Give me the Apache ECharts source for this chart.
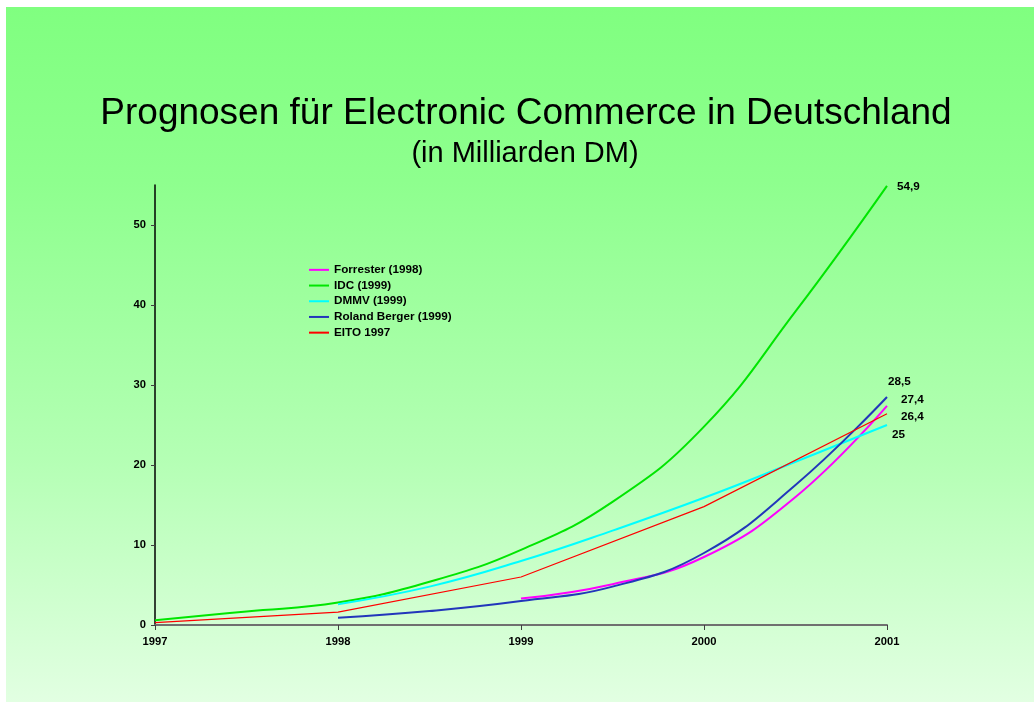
<!DOCTYPE html>
<html>
<head>
<meta charset="utf-8">
<title>Prognosen für Electronic Commerce in Deutschland</title>
<script src="https://cdn.jsdelivr.net/npm/echarts@6/dist/echarts.min.js"></script>
<style>
  html, body { margin: 0; padding: 0; background: #fff; }
  #chart { width: 1034px; height: 702px; }
</style>
</head>
<body>
<div id="chart"></div>
<script>
// Achsen
var yearTicks = [1997, 1998, 1999, 2000, 2001];
var valueTicks = [0, 10, 20, 30, 40, 50];

// Werte (Halbjahres-Stuetzstellen fuer die geglaetteten Kurven)
var forresterYears = [1999, 1999.5, 2000, 2000.5, 2001];
var forresterValues = [3.3, 5.1, 8.5, 16.0, 27.4];

var idcYears = [1997, 1997.5, 1998, 1998.5, 1999, 1999.5, 2000, 2000.5, 2001];
var idcValues = [0.6, 1.7, 2.8, 5.4, 9.4, 15.4, 24.8, 39.2, 54.9];

var dmmvYears = [1998, 1998.5, 1999, 1999.5, 2000, 2000.5, 2001];
var dmmvValues = [2.6, 4.8, 8.0, 11.8, 15.9, 20.4, 25];

var bergerYears = [1998, 1998.5, 1999, 1999.5, 2000, 2000.5, 2001];
var bergerValues = [0.9, 1.75, 3.0, 4.8, 9.0, 17.5, 28.5];

var eitoYears = [1997, 1998, 1999, 2000, 2001];
var eitoValues = [0.3, 1.6, 6.0, 14.8, 26.4];

var FONT = '"Liberation Sans", Arial, sans-serif';

function pairs(xs, ys) {
  return xs.map(function (x, i) { return [x, ys[i]]; });
}
// deutsches Dezimalkomma
function fmt(v) {
  return String(v).replace('.', ',');
}

function lineSeries(name, xs, ys, color, width, smooth, offset) {
  return {
    name: name,
    type: 'line',
    data: pairs(xs, ys),
    smooth: smooth,
    showSymbol: false,
    symbol: 'none',
    color: color,
    lineStyle: { color: color, width: width },
    endLabel: {
      show: true,
      distance: 0,
      offset: offset,
      formatter: function (p) { return fmt(p.value[1]); },
      fontFamily: FONT,
      fontSize: 11.7,
      fontWeight: 'bold',
      color: '#000'
    }
  };
}

var myChart = echarts.init(document.getElementById('chart'));

var option = {
  animation: false,
  graphic: [{
    type: 'rect',
    z: -10,
    silent: true,
    shape: { x: 6, y: 7, width: 1028, height: 695 },
    style: {
      fill: new echarts.graphic.LinearGradient(0, 0, 0, 1, [
        { offset: 0, color: '#80ff80' },
        { offset: 0.25, color: '#8eff8e' },
        { offset: 0.65, color: '#b4ffb4' },
        { offset: 1, color: '#e2ffe2' }
      ])
    }
  }, {
    type: 'text',
    x: 526,
    y: 114,
    style: {
      text: 'Prognosen für Electronic Commerce in Deutschland',
      font: '37px ' + FONT,
      fill: '#000',
      align: 'center',
      verticalAlign: 'middle'
    }
  }, {
    type: 'text',
    x: 525,
    y: 154,
    style: {
      text: '(in Milliarden DM)',
      font: '29px ' + FONT,
      fill: '#000',
      align: 'center',
      verticalAlign: 'middle'
    }
  }],
  legend: {
    orient: 'vertical',
    left: 309,
    top: 263,
    padding: 0,
    icon: 'rect',
    itemWidth: 20,
    itemHeight: 2,
    itemGap: 2,
    textStyle: { fontFamily: FONT, fontSize: 11.7, fontWeight: 'bold', color: '#000', lineHeight: 13.7 },
    data: ['Forrester (1998)', 'IDC (1999)', 'DMMV (1999)', 'Roland Berger (1999)', 'EITO 1997']
  },
  grid: { left: 155, right: 147, top: 185, bottom: 77 },
  xAxis: {
    type: 'value',
    min: 1997,
    max: 2001,
    interval: 1,
    axisLine: { show: true, lineStyle: { color: '#707070', width: 2 } },
    axisTick: { show: true, length: 5, lineStyle: { color: '#404040' } },
    splitLine: { show: false },
    axisLabel: {
      margin: 11,
      fontFamily: FONT, fontSize: 11.2, fontWeight: 'bold', color: '#000',
      formatter: function (v) { return String(v); }
    }
  },
  yAxis: {
    type: 'value',
    min: 0,
    max: 55,
    interval: 10,
    axisLine: { show: true, lineStyle: { color: '#000', width: 1.5 } },
    axisTick: { show: true, length: 4, customValues: valueTicks, lineStyle: { color: '#404040' } },
    splitLine: { show: false },
    axisLabel: {
      margin: 9,
      customValues: valueTicks,
      fontFamily: FONT, fontSize: 11.2, fontWeight: 'bold', color: '#000'
    }
  },
  series: [
    lineSeries('Forrester (1998)', forresterYears, forresterValues, '#ff00ff', 2, 0.45, [14, -6.5]),
    lineSeries('IDC (1999)', idcYears, idcValues, '#00e600', 2, 0.45, [10, 1]),
    lineSeries('DMMV (1999)', dmmvYears, dmmvValues, '#00ffff', 2, 0.45, [5, 10]),
    lineSeries('Roland Berger (1999)', bergerYears, bergerValues, '#2236bb', 2, 0.45, [1, -15]),
    lineSeries('EITO 1997', eitoYears, eitoValues, '#ff0000', 1.2, false, [14, 3])
  ]
};

myChart.setOption(option);
</script>
</body>
</html>
